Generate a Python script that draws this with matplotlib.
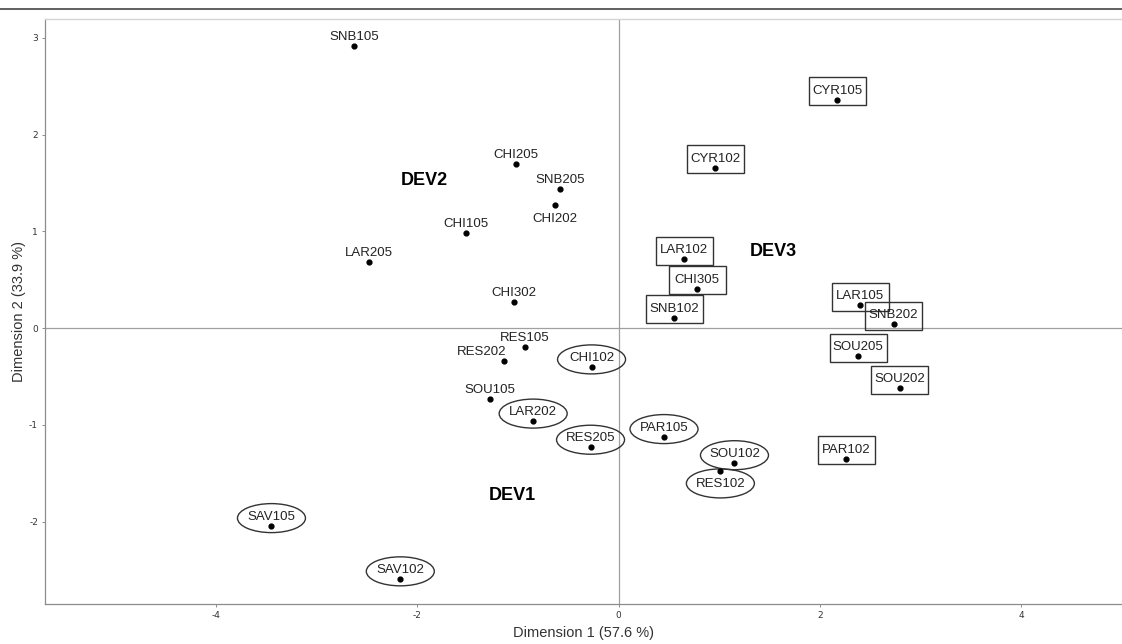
import matplotlib
matplotlib.use("Agg")
import matplotlib.pyplot as plt
import matplotlib.transforms as mtransforms
from matplotlib.patches import Rectangle, Ellipse
from matplotlib.lines import Line2D

plt.rcParams["axes.unicode_minus"] = False

# sample coordinates on the first two dimensions
names = ["SNB105", "LAR205", "CHI205", "SNB205", "CHI202", "CHI105", "CHI302",
         "CYR102", "LAR102", "CHI305", "SNB102", "RES105", "CYR105", "LAR105",
         "SNB202", "SOU205", "SOU202", "SAV105", "SAV102", "RES202", "CHI102",
         "SOU105", "LAR202", "RES205", "PAR105", "SOU102", "RES102", "PAR102"]
dim1 = [-2.63, -2.48, -1.02, -0.58, -0.63, -1.52, -1.04,
        0.96, 0.65, 0.78, 0.55, -0.93, 2.17, 2.40,
        2.73, 2.38, 2.79, -3.45, -2.17, -1.14, -0.27,
        -1.28, -0.85, -0.28, 0.45, 1.15, 1.01, 2.26]
dim2 = [2.92, 0.68, 1.70, 1.44, 1.27, 0.98, 0.27,
        1.66, 0.71, 0.41, 0.11, -0.19, 2.36, 0.24,
        0.04, -0.29, -0.62, -2.04, -2.59, -0.34, -0.40,
        -0.73, -0.96, -1.23, -1.12, -1.39, -1.48, -1.35]

boxed = ["CYR105", "CYR102", "LAR102", "CHI305", "SNB102", "LAR105",
         "SNB202", "SOU205", "SOU202", "PAR102"]
circled = ["SAV105", "SAV102", "CHI102", "LAR202", "RES205", "PAR105",
           "SOU102", "RES102"]

groups = ["DEV1", "DEV2", "DEV3"]
group_x = [-1.06, -1.93, 1.54]
group_y = [-1.73, 1.53, 0.79]

# label offsets in pixels (default is centred above the dot)
label_shift = {"CHI202": (0, -14), "RES102": (0, -13), "RES202": (-22, 9)}

fig = plt.figure(figsize=(11.22, 6.44), dpi=100)
ax = fig.add_axes([45 / 1122, 40 / 644, 1 - 45 / 1122, (604 - 19) / 644])
ax.set_xlim(-5.70, 5.0)
ax.set_ylim(-2.85, 3.195)

grey = "#8c8c8c"
for side in ["left", "bottom"]:
    ax.spines[side].set_color(grey)
    ax.spines[side].set_linewidth(0.9)
ax.spines["top"].set_color("#d4d4d4")
ax.spines["top"].set_linewidth(1.0)
ax.spines["right"].set_visible(False)

ax.axhline(0, color="#a0a0a0", lw=0.9, zorder=1)
ax.axvline(0, color="#a0a0a0", lw=0.9, zorder=1)

ax.set_xticks([-4, -2, 0, 2, 4])
ax.set_yticks([-2, -1, 0, 1, 2, 3])
ax.tick_params(length=2, width=0.7, color=grey, labelsize=6.5, labelcolor="#333333", pad=3)

ax.scatter(dim1, dim2, s=12, color="black", zorder=3)

for name, x, y in zip(names, dim1, dim2):
    dx, dy = label_shift.get(name, (0, 9))
    ax.annotate(name, (x, y), xytext=(dx * 0.72, dy * 0.72), textcoords="offset points",
                ha="center", va="center", fontsize=9.5, family="Liberation Sans",
                color="#222222", zorder=4)
    # pixel frame centred on the dot
    trans = mtransforms.IdentityTransform() + mtransforms.ScaledTranslation(x, y, ax.transData)
    if name in boxed:
        ax.add_patch(Rectangle((-28.5, -5.6), 57, 28, transform=trans, fill=False,
                               edgecolor="#333333", lw=1.0, zorder=2))
    elif name in circled:
        cy = -12 if name == "RES102" else 7.5
        ax.add_patch(Ellipse((0, cy), 68, 29, transform=trans, fill=False,
                             edgecolor="#333333", lw=1.0, zorder=2))

for g, x, y in zip(groups, group_x, group_y):
    ax.text(x, y, g, ha="center", va="center", fontsize=13, fontweight="bold",
            family="Liberation Sans", color="black")

ax.set_xlabel("Dimension 1 (57.6 %)", fontsize=10.5, family="Liberation Sans",
              color="#333333", labelpad=4)
ax.set_ylabel("Dimension 2 (33.9 %)", fontsize=10.5, family="Liberation Sans",
              color="#333333", labelpad=2)

# dark rule along the top of the figure
fig.add_artist(Line2D([0, 1], [1 - 9 / 644, 1 - 9 / 644], color="#444444", lw=1.2))

fig.savefig("out.png", dpi=100)
